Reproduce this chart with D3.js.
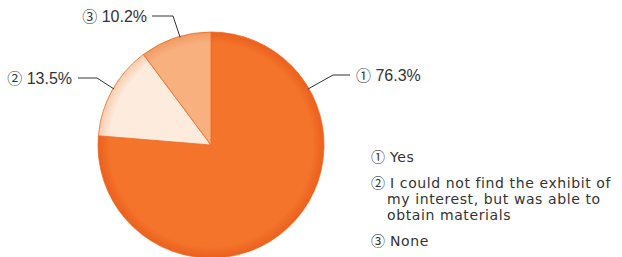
<!DOCTYPE html>
<html><head><meta charset="utf-8">
<script src="https://cdn.jsdelivr.net/npm/d3@7"></script>
<style>body{margin:0;background:#fff;}svg{display:block;}</style>
</head><body>
<svg id="c" width="622" height="257"></svg>
<script>
const categories = ["Yes", "I could not find the exhibit of my interest, but was able to obtain materials", "None"];
const markers = ["①", "②", "③"];
const values = [76.3, 13.5, 10.2];
const legendLines = [["Yes"], ["I could not find the exhibit of", "my interest, but was able to", "obtain materials"], ["None"]];

const colors = [
  {fill: "#F3742A", edge: "#EC5F1E"},
  {fill: "#FDEBDD", edge: "#F9CDAE"},
  {fill: "#F8B07F", edge: "#F29A62"}
];

const svg = d3.select("#c");
const cx = 211, cy = 145, R = 113;
const defs = svg.append("defs");
colors.forEach((c, i) => {
  const g = defs.append("radialGradient").attr("id", "g" + i)
    .attr("gradientUnits", "userSpaceOnUse").attr("cx", 0).attr("cy", 0).attr("r", R);
  g.append("stop").attr("offset", "0%").attr("stop-color", c.fill);
  g.append("stop").attr("offset", "90%").attr("stop-color", c.fill);
  g.append("stop").attr("offset", "100%").attr("stop-color", c.edge);
});

const pie = d3.pie().sort(null).value(d => d)(values);
const arc = d3.arc().innerRadius(0).outerRadius(R);
const gp = svg.append("g").attr("transform", `translate(${cx},${cy})`);
gp.selectAll("path").data(pie).join("path")
  .attr("d", arc)
  .attr("fill", (d, i) => `url(#g${i})`)
  .attr("stroke", "#EF6A22").attr("stroke-width", 0.8);

const labelFont = "'Liberation Sans', Arial, sans-serif";
const legendFont = "'DejaVu Sans', sans-serif";
const markFont = "'Noto Sans CJK JP', sans-serif";
const labelAngles = [60, 300, 344];
const labelCfg = [
  {elbow: [333, 75], end: [350, 75], tx: 356, ty: 81, anchor: "start"},
  {elbow: [97, 78], end: [78, 78], tx: 72, ty: 84, anchor: "end"},
  {elbow: [173, 16], end: [152, 16], tx: 147, ty: 22, anchor: "end"}
];
const fmt = d3.format(".1f");
values.forEach((v, i) => {
  const a = labelAngles[i] * Math.PI / 180;
  const sx = cx + Math.sin(a) * (R - 1), sy = cy - Math.cos(a) * (R - 1);
  const c = labelCfg[i];
  svg.append("polyline")
    .attr("points", [[sx, sy], c.elbow, c.end].map(p => p.join(",")).join(" "))
    .attr("fill", "none").attr("stroke", "#333").attr("stroke-width", 1);
  const t = svg.append("text").attr("x", c.tx).attr("y", c.ty).attr("text-anchor", c.anchor)
    .attr("font-family", labelFont).attr("font-size", 16).attr("fill", "#333");
  t.append("tspan").attr("font-family", markFont).attr("font-size", 15).text(markers[i]);
  t.append("tspan").text(" " + fmt(v) + "%");
});

// legend
const legY = [162, 188, 246];
const lg = svg.append("g").attr("font-family", legendFont).attr("font-size", 14)
  .attr("letter-spacing", 0.6).attr("fill", "#333");
legendLines.forEach((lines, i) => {
  lines.forEach((ln, j) => {
    const t = lg.append("text").attr("x", j === 0 ? 371 : 387).attr("y", legY[i] + j * 16);
    if (j === 0) {
      t.append("tspan").attr("font-family", markFont).attr("letter-spacing", 0).text(markers[i]);
      t.append("tspan").text(" " + ln);
    } else {
      t.text(ln);
    }
  });
});
</script>
</body></html>
